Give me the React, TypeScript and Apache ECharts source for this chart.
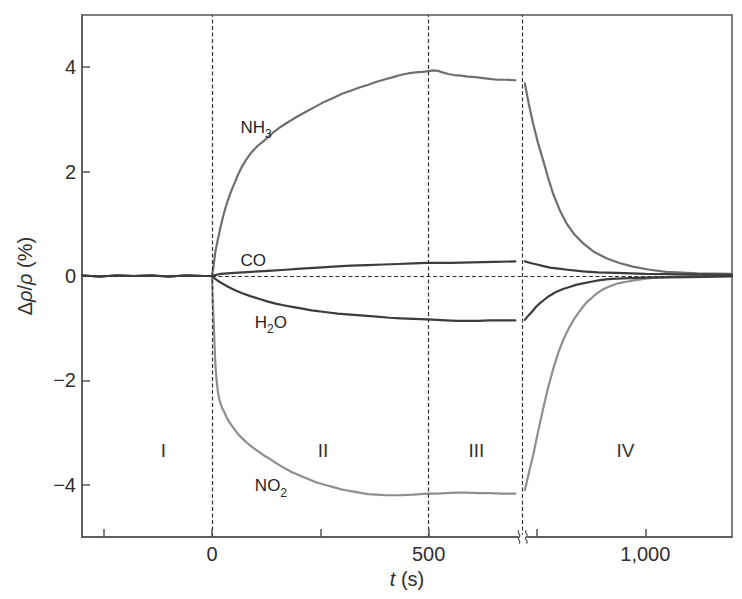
import React, { useEffect, useRef } from "react";
import * as echarts from "echarts";

// ---- axes ----
const xMin = -300;
const xMax = 1200;
const yMin = -5;
const yMax = 5;
const xLabelValues = [0, 500, 1000];
const xTickValues = [-250, 0, 250, 500, 750, 1000];
const yTickValues = [-4, -2, 0, 2, 4];
const phaseBoundaries = [0, 500, 717];
const breakAt = 717;

// ---- data: t (s), Δρ/ρ (%) ----
const baseline = [
  [-300, 0.01], [-260, -0.01], [-220, 0.01], [-180, 0], [-140, 0.01],
  [-100, -0.01], [-60, 0.01], [-20, 0],
];

const nh3Exposure = [
  [0, 0], [2, 0.1], [4, 0.22], [8, 0.48], [14, 0.72], [20, 0.95], [25, 1.12],
  [31, 1.3], [37, 1.46], [44, 1.62], [52, 1.78], [60, 1.94], [68, 2.08],
  [79, 2.23], [90, 2.36], [105, 2.49], [121, 2.6], [140, 2.74], [159, 2.86],
  [178, 2.96], [198, 3.06], [220, 3.16], [240, 3.25], [260, 3.34], [282, 3.42],
  [300, 3.49], [320, 3.55], [340, 3.61], [359, 3.66], [380, 3.72], [400, 3.77],
  [418, 3.81], [435, 3.85], [452, 3.88], [470, 3.9], [485, 3.91], [496, 3.92],
  [510, 3.94], [522, 3.93], [532, 3.9], [545, 3.87], [558, 3.85], [575, 3.84],
  [590, 3.82], [608, 3.81], [626, 3.79], [645, 3.77], [660, 3.76], [680, 3.76],
  [700, 3.75],
];
const nh3Recovery = [
  [722, 3.69], [731, 3.3], [741, 2.92], [752, 2.56], [764, 2.22], [775, 1.9],
  [787, 1.58], [802, 1.27], [818, 1.01], [836, 0.8], [856, 0.63], [880, 0.47],
  [910, 0.34], [940, 0.25], [971, 0.18], [1010, 0.12], [1048, 0.08],
  [1120, 0.05], [1200, 0.04],
];

const coExposure = [
  [0, 0], [8, 0.02], [20, 0.04], [52, 0.06], [90, 0.08], [130, 0.1], [170, 0.12],
  [205, 0.14], [245, 0.16], [280, 0.18], [320, 0.2], [359, 0.21], [395, 0.22],
  [430, 0.23], [465, 0.24], [496, 0.25], [550, 0.25], [600, 0.26], [650, 0.27],
  [700, 0.28],
];
const coRecovery = [
  [722, 0.28], [735, 0.25], [750, 0.22], [765, 0.19], [780, 0.16], [800, 0.14],
  [820, 0.12], [856, 0.09], [890, 0.07], [933, 0.06], [1000, 0.04],
  [1100, 0.03], [1200, 0.02],
];

const h2oExposure = [
  [0, 0], [5, -0.04], [10, -0.07], [17, -0.11], [25, -0.15], [38, -0.21],
  [52, -0.27], [70, -0.33], [90, -0.39], [110, -0.44], [129, -0.49],
  [147, -0.53], [165, -0.56], [185, -0.59], [205, -0.62], [230, -0.66],
  [260, -0.69], [290, -0.72], [320, -0.74], [350, -0.76], [380, -0.78],
  [410, -0.8], [435, -0.81], [465, -0.82], [496, -0.83], [520, -0.84],
  [540, -0.85], [565, -0.86], [588, -0.86], [615, -0.86], [640, -0.85],
  [670, -0.85], [700, -0.85],
];
const h2oRecovery = [
  [722, -0.84], [731, -0.75], [740, -0.67], [748, -0.59], [757, -0.52],
  [766, -0.46], [775, -0.4], [785, -0.35], [795, -0.3], [810, -0.25],
  [825, -0.21], [840, -0.17], [856, -0.14], [875, -0.11], [895, -0.08],
  [915, -0.06], [933, -0.05], [965, -0.04], [1000, -0.03], [1100, -0.02],
  [1200, -0.01],
];

const no2Exposure = [
  [0, 0], [2, -0.5], [4, -0.9], [5, -1.1], [6.5, -1.45], [8, -1.73], [11, -2.03],
  [14, -2.24], [17, -2.36], [20, -2.45], [24, -2.54], [29, -2.62], [34, -2.71],
  [40, -2.8], [46, -2.87], [52, -2.94], [60, -3.03], [70, -3.11], [80, -3.19],
  [90, -3.26], [100, -3.32], [110, -3.38], [120, -3.44], [129, -3.48],
  [147, -3.58], [165, -3.67], [185, -3.76], [205, -3.83], [222, -3.89],
  [240, -3.95], [260, -4.0], [282, -4.05], [300, -4.09], [320, -4.12],
  [340, -4.15], [359, -4.18], [380, -4.19], [400, -4.2], [420, -4.2],
  [435, -4.2], [465, -4.19], [496, -4.17], [520, -4.17], [540, -4.16],
  [565, -4.15], [588, -4.15], [615, -4.16], [640, -4.16], [670, -4.17],
  [700, -4.17],
];
const no2Recovery = [
  [722, -4.1], [731, -3.78], [741, -3.44], [752, -3.0], [764, -2.55],
  [775, -2.16], [787, -1.79], [800, -1.45], [809, -1.26], [818, -1.09],
  [827, -0.95], [836, -0.82], [846, -0.7], [856, -0.59], [865, -0.5],
  [875, -0.43], [884, -0.36], [894, -0.3], [906, -0.24], [920, -0.19],
  [937, -0.14], [956, -0.11], [978, -0.08], [1000, -0.05], [1024, -0.03],
  [1048, -0.02], [1100, 0], [1200, 0],
];

// ---- annotations ----
const phaseLabels = ["I", "II", "III", "IV"];
const phaseLabelT = [-112, 256, 610, 954];
const phaseLabelY = -3.35;
const gasLabels = ["{m|NH}{s|3}", "{m|CO}", "{m|H}{s|2}{m|O}", "{m|NO}{s|2}"];
const gasLabelPos = [
  [102, 2.85],
  [95, 0.3],
  [136, -0.89],
  [136, -4.02],
];

const FONT = "Liberation Sans, Arial, sans-serif";
const TEXT = "#2e2e2e";
const LABEL = "#1f1f1f";
const AXIS = "#555";
const DARK = "#3c3c3c";
const MID = "#6f6f6f";
const LIGHT = "#8e8e8e";

const W = 742;
const H = 599;
const GRID = { left: 82, right: 10, top: 15, bottom: 62 };
const plotW = W - GRID.left - GRID.right;
const plotH = H - GRID.top - GRID.bottom;
const tickPx = 8;
const tickLenY = (tickPx / plotH) * (yMax - yMin);
const tickLenX = (tickPx / plotW) * (xMax - xMin);

function lineSeries(name: string, data: number[][], color: string, z: number) {
  return {
    name,
    type: "line",
    data,
    showSymbol: false,
    symbol: "none",
    smooth: false,
    z,
    lineStyle: { color, width: 2.2, join: "round", cap: "round" },
    silent: true,
  };
}

function buildOption() {
  return {
    animation: false,
    grid: {
      ...GRID,
      show: true,
      borderColor: AXIS,
      borderWidth: 1.5,
      containLabel: false,
    },
    xAxis: {
      type: "value",
      min: xMin,
      max: xMax,
      interval: 50,
      name: "{i|t}{n| (s)}",
      nameLocation: "middle",
      nameGap: 30,
      nameTextStyle: {
        rich: {
          i: { fontFamily: FONT, fontSize: 20, fontStyle: "italic", color: TEXT },
          n: { fontFamily: FONT, fontSize: 20, color: TEXT },
        },
      },
      axisLine: { show: true, onZero: false, lineStyle: { color: AXIS, width: 1.5 } },
      axisTick: { show: false },
      splitLine: { show: false },
      axisLabel: {
        margin: 7,
        fontFamily: FONT,
        fontSize: 20,
        color: TEXT,
        formatter: (v: number) =>
          xLabelValues.includes(v) ? v.toLocaleString("en-US") : "",
      },
    },
    yAxis: {
      type: "value",
      min: yMin,
      max: yMax,
      interval: 1,
      name: "{n|Δ}{i|ρ}{n|/}{i|ρ}{n| (%)}",
      nameLocation: "middle",
      nameGap: 47,
      nameRotate: 90,
      nameTextStyle: {
        rich: {
          i: { fontFamily: FONT, fontSize: 20, fontStyle: "italic", color: TEXT },
          n: { fontFamily: FONT, fontSize: 20, color: TEXT },
        },
      },
      axisLine: { show: true, onZero: false, lineStyle: { color: AXIS, width: 1.5 } },
      axisTick: { show: false },
      splitLine: { show: false },
      axisLabel: {
        margin: 6,
        fontFamily: FONT,
        fontSize: 20,
        color: TEXT,
        formatter: (v: number) =>
          yTickValues.includes(v) ? String(v).replace("-", "\u2212") : "",
      },
    },
    series: [
      // helper: ticks, dashed phase lines, axis break
      {
        type: "line",
        data: [[xMin, 0]],
        symbol: "none",
        lineStyle: { opacity: 0 },
        silent: true,
        z: 1,
        markLine: {
          silent: true,
          symbol: ["none", "none"],
          label: { show: false },
          animation: false,
          data: [
            ...phaseBoundaries.map((v) => ({
              xAxis: v,
              lineStyle: { color: "#333", width: 1.2, type: [4, 2.5] },
            })),
            { yAxis: 0, lineStyle: { color: "#333", width: 1.2, type: [4, 2.5] } },
            ...xTickValues.map((v) => [
              { coord: [v, yMin], lineStyle: { color: AXIS, width: 1.5, type: "solid" } },
              { coord: [v, yMin + tickLenY] },
            ]),
            ...yTickValues.map((v) => [
              { coord: [xMin, v], lineStyle: { color: AXIS, width: 1.5, type: "solid" } },
              { coord: [xMin + tickLenX, v] },
            ]),
          ],
        },
        markPoint: {
          silent: true,
          animation: false,
          label: { show: false },
          data: [
            {
              coord: [breakAt, yMin],
              symbol: "rect",
              symbolSize: [9, 5],
              itemStyle: { color: "#fff" },
            },
            {
              coord: [breakAt, yMin],
              symbol:
                "path://M2,0 C0,2 4,4 2,6 C0,8 4,10 2,12 M7,0 C5,2 9,4 7,6 C5,8 9,10 7,12",
              symbolSize: [9, 13],
              itemStyle: { color: "none", borderColor: "#444", borderWidth: 1.2 },
            },
          ],
        },
      },
      lineSeries("NH3", [...baseline, ...nh3Exposure], MID, 2),
      lineSeries("NH3 recovery", nh3Recovery, MID, 2),
      lineSeries("NO2", [...baseline, ...no2Exposure], LIGHT, 3),
      lineSeries("NO2 recovery", no2Recovery, LIGHT, 3),
      lineSeries("CO", [...baseline, ...coExposure], DARK, 4),
      lineSeries("CO recovery", coRecovery, DARK, 4),
      lineSeries("H2O", [...baseline, ...h2oExposure], DARK, 5),
      lineSeries("H2O recovery", h2oRecovery, DARK, 5),
      {
        type: "scatter",
        silent: true,
        symbolSize: 1,
        itemStyle: { color: "#ffffff", opacity: 1 },
        z: 6,
        data: gasLabels.map((name, i) => ({ name, value: gasLabelPos[i] })),
        label: {
          show: true,
          position: "inside",
          color: LABEL,
          opacity: 1,
          textBorderWidth: 0,
          formatter: (p: any) => p.name,
          rich: {
            m: {
              fontFamily: FONT,
              fontSize: 17,
              lineHeight: 26,
              verticalAlign: "middle",
              color: LABEL,
              textBorderWidth: 0,
            },
            s: {
              fontFamily: FONT,
              fontSize: 12,
              lineHeight: 12,
              verticalAlign: "bottom",
              color: LABEL,
              textBorderWidth: 0,
            },
          },
        },
      },
      {
        type: "scatter",
        silent: true,
        symbolSize: 1,
        itemStyle: { color: "#ffffff", opacity: 1 },
        z: 6,
        data: phaseLabels.map((name, i) => ({ name, value: [phaseLabelT[i], phaseLabelY] })),
        label: {
          show: true,
          position: "inside",
          opacity: 1,
          formatter: (p: any) => p.name,
          fontFamily: FONT,
          fontSize: 19,
          color: "#333",
          textBorderWidth: 0,
        },
      },
    ],
  };
}

export default function App() {
  const ref = useRef<HTMLDivElement>(null);
  useEffect(() => {
    if (!ref.current) return;
    const chart = echarts.init(ref.current, null, { renderer: "svg" });
    chart.setOption(buildOption() as any);
    return () => chart.dispose();
  }, []);
  return (
    <div
      ref={ref}
      style={{ position: "absolute", left: 0, top: 0, width: W, height: H, background: "#fff" }}
    />
  );
}
